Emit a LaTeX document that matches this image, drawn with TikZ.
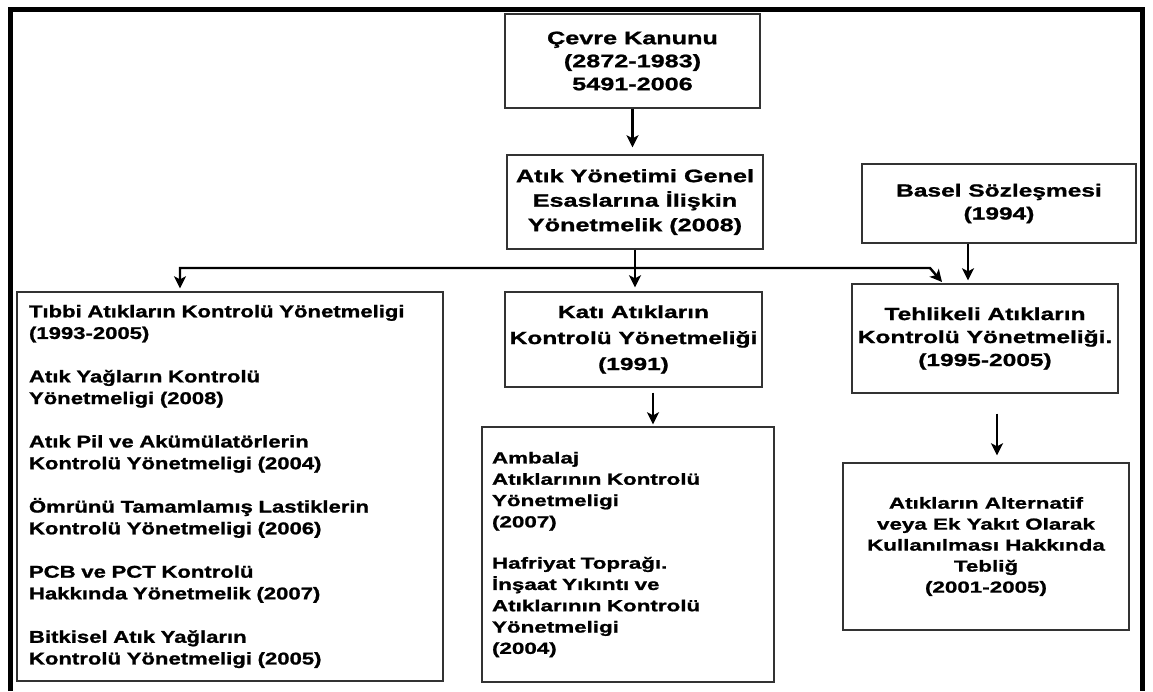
\documentclass[tikz,border=0pt]{standalone}
\usepackage{fontspec}
\setmainfont{Liberation Sans}[FakeStretch=1.4, FakeBold=1.2]
\newfontfamily\leftfont{Liberation Sans}[FakeStretch=1.3, FakeBold=1.2]
\usetikzlibrary{arrows.meta,calc}
\begin{document}
\begin{tikzpicture}[x=1pt,y=-1pt,
  box/.style={draw=black!80, line width=1.4pt, inner sep=0pt, align=center},
  tip/.tip={Stealth[length=12pt,width=12pt,inset=3pt]},
  arr/.style={line width=2.8pt, -tip},
  hline/.style={line width=2.4pt},
]
\useasboundingbox (0,0) rectangle (1153,691);
\draw[line width=5pt, line join=miter] (10.5,691) -- (10.5,9.5) -- (1142.5,9.5) -- (1142.5,691);

\node[box, minimum width=255pt, minimum height=94pt, font=\bfseries\fontsize{18}{23}\selectfont] (cevre) at (632.5,61)
  {Çevre Kanunu\\(2872-1983)\\5491-2006};
\node[box, minimum width=256pt, minimum height=94pt, font=\bfseries\fontsize{18}{24.5}\selectfont] (atik) at (635,202)
  {Atık Yönetimi Genel\\Esaslarına İlişkin\\Yönetmelik (2008)};
\node[box, minimum width=274pt, minimum height=79pt, font=\bfseries\fontsize{17.5}{23}\selectfont] (basel) at (999,203.5)
  {Basel Sözleşmesi\\(1994)};
\node[box, minimum width=257pt, minimum height=95pt, font=\bfseries\fontsize{17.5}{26}\selectfont] (kati) at (633.5,339.5)
  {Katı Atıkların\\Kontrolü Yönetmeliği\\(1991)};
\node[box, minimum width=266pt, minimum height=109pt, font=\bfseries\fontsize{17.5}{23}\selectfont] (teh) at (985,338.5)
  {Tehlikeli Atıkların\\Kontrolü Yönetmeliği.\\(1995-2005)};
\node[box, minimum width=286pt, minimum height=167pt, font=\bfseries\fontsize{16}{21}\selectfont] (fin) at (986,546.5)
  {Atıkların Alternatif\\veya Ek Yakıt Olarak\\Kullanılması Hakkında\\Tebliğ\\(2001-2005)};
\node[box, text width=402pt, inner xsep=12pt, minimum height=389pt, align=left, font=\leftfont\bfseries\fontsize{17}{21.7}\selectfont] (left) at (230,486.5)
  {Tıbbi Atıkların Kontrolü Yönetmeligi\\(1993-2005)\\[21.7pt]
   Atık Yağların Kontrolü\\Yönetmeligi (2008)\\[21.7pt]
   Atık Pil ve Akümülatörlerin\\Kontrolü Yönetmeligi (2004)\\[21.7pt]
   Ömrünü Tamamlamış Lastiklerin\\Kontrolü Yönetmeligi (2006)\\[21.7pt]
   PCB ve PCT Kontrolü\\Hakkında Yönetmelik (2007)\\[21.7pt]
   Bitkisel Atık Yağların\\Kontrolü Yönetmeligi (2005)};
\node[box, text width=272pt, inner xsep=10pt, minimum height=255pt, align=left, font=\bfseries\fontsize{16}{21.3}\selectfont] (amb) at (628,554.5)
  {Ambalaj\\Atıklarının Kontrolü\\Yönetmeligi\\(2007)\\[20pt]
   Hafriyat Toprağı.\\İnşaat Yıkıntı ve\\Atıklarının Kontrolü\\Yönetmeligi\\(2004)};

\coordinate (jl) at (180,268);
\coordinate (jr) at (930,268);
\coordinate (jt) at (942,282);
\coordinate (xk) at (653,0);
\coordinate (xb) at (968,0);
\coordinate (xt) at (997,0);

\draw[arr] (cevre.south) -- ([yshift=7pt]cevre.south |- atik.north);
\draw[arr] (atik.south) -- ([yshift=4pt]atik.south |- kati.north);
\draw[hline, tip-tip] ([yshift=3pt]jl |- left.north) -- (jl) -- (jr) -- (jt);
\draw[arr] (xb |- basel.south) -- ([yshift=3pt]xb |- teh.north);
\draw[arr] (xk |- kati.south) ++(0,5) -- ([yshift=2pt]xk |- amb.north);
\draw[arr] (xt |- teh.south) ++(0,20) -- ([yshift=7pt]xt |- fin.north);
\end{tikzpicture}
\end{document}
